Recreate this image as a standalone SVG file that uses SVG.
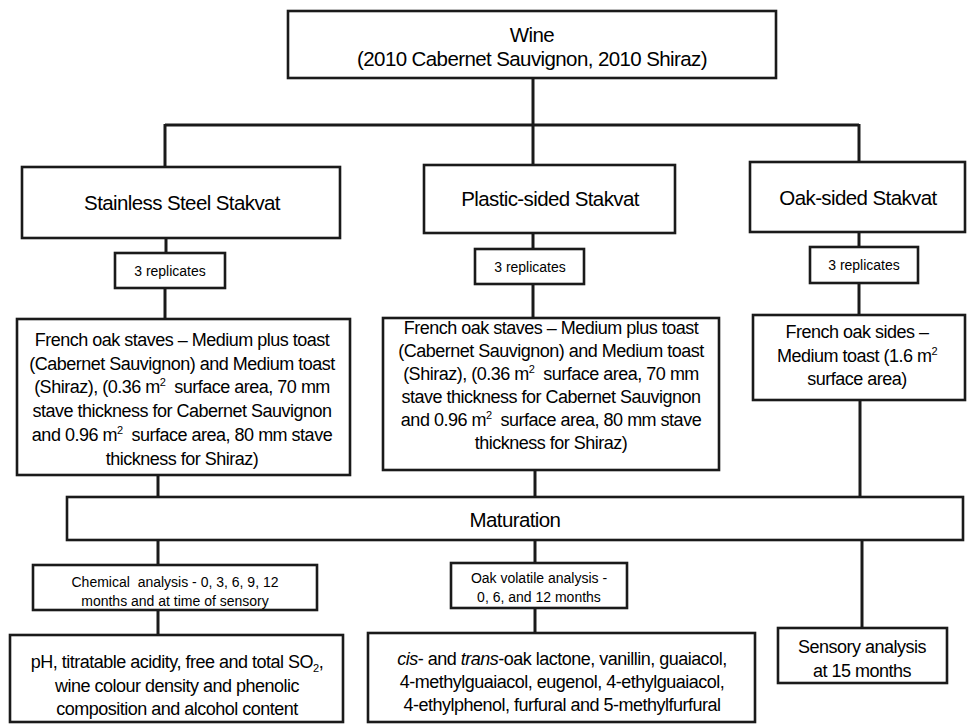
<svg xmlns="http://www.w3.org/2000/svg" width="968" height="727" viewBox="0 0 968 727">
<style>
rect.b{fill:#fff;stroke:#1a1a1a;stroke-width:2.6}
.c line{stroke:#1a1a1a;stroke-width:3}
text{font-family:"Liberation Sans",Arial,sans-serif;fill:#000;text-anchor:middle;white-space:pre}
.t1{font-size:20.5px;letter-spacing:-0.6px}
.t2{font-size:18px;letter-spacing:-0.5px}
.t3{font-size:14px}
</style>
<rect width="968" height="727" fill="#fff"/>
<g class="c" id="connectors">
<line x1="533" y1="78" x2="533" y2="165"/>
<line x1="165" y1="125" x2="859" y2="125"/>
<line x1="165" y1="124" x2="165" y2="167"/>
<line x1="859" y1="124" x2="859" y2="162"/>
<line x1="166" y1="238" x2="166" y2="253"/>
<line x1="165" y1="288" x2="165" y2="319"/>
<line x1="533" y1="233" x2="533" y2="249"/>
<line x1="533" y1="284" x2="533" y2="318"/>
<line x1="859" y1="232" x2="859" y2="247"/>
<line x1="859" y1="283" x2="859" y2="315"/>
<line x1="158" y1="475" x2="158" y2="497"/>
<line x1="535" y1="470" x2="535" y2="497"/>
<line x1="860" y1="400" x2="860" y2="497"/>
<line x1="158" y1="540" x2="158" y2="565"/>
<line x1="535" y1="540" x2="535" y2="563"/>
<line x1="862" y1="540" x2="862" y2="628"/>
<line x1="158" y1="610" x2="158" y2="635"/>
<line x1="535" y1="608" x2="535" y2="633"/>
</g>
<g id="wine">
<rect class="b" x="288" y="11" width="488" height="67"/>
<text class="t1" x="532" y="42">Wine</text>
<text class="t1" x="532" y="66">(2010 Cabernet Sauvignon, 2010 Shiraz)</text>
</g>
<g id="stainless">
<rect class="b" x="22" y="167" width="318" height="71"/>
<text class="t1" x="182" y="210">Stainless Steel Stakvat</text>
</g>
<g id="plastic">
<rect class="b" x="424" y="165" width="251" height="68"/>
<text class="t1" x="550" y="206">Plastic-sided Stakvat</text>
</g>
<g id="oak">
<rect class="b" x="750" y="162" width="215" height="70"/>
<text class="t1" x="858" y="205">Oak-sided Stakvat</text>
</g>
<g id="rep-left">
<rect class="b" x="115" y="253" width="110" height="35"/>
<text class="t3" x="170" y="276">3 replicates</text>
</g>
<g id="rep-mid">
<rect class="b" x="475" y="249" width="109" height="35"/>
<text class="t3" x="530" y="272">3 replicates</text>
</g>
<g id="rep-right">
<rect class="b" x="810" y="247" width="108" height="36"/>
<text class="t3" x="864" y="270">3 replicates</text>
</g>
<g id="staves-left">
<rect class="b" x="17" y="319" width="333" height="156"/>
<text class="t2" x="182" y="346">French oak staves – Medium plus toast</text>
<text class="t2" x="182" y="370">(Cabernet Sauvignon) and Medium toast</text>
<text class="t2" x="182" y="393">(Shiraz), (0.36 m<tspan font-size="11" dy="-7">2</tspan><tspan dy="7">  surface area, 70 mm</tspan></text>
<text class="t2" x="182" y="417">stave thickness for Cabernet Sauvignon</text>
<text class="t2" x="182" y="441">and 0.96 m<tspan font-size="11" dy="-7">2</tspan><tspan dy="7">  surface area, 80 mm stave</tspan></text>
<text class="t2" x="182" y="465">thickness for Shiraz)</text>
</g>
<g id="staves-mid">
<rect class="b" x="383" y="318" width="336" height="152"/>
<text class="t2" x="551" y="334">French oak staves – Medium plus toast</text>
<text class="t2" x="551" y="357">(Cabernet Sauvignon) and Medium toast</text>
<text class="t2" x="551" y="380">(Shiraz), (0.36 m<tspan font-size="11" dy="-7">2</tspan><tspan dy="7">  surface area, 70 mm</tspan></text>
<text class="t2" x="551" y="403">stave thickness for Cabernet Sauvignon</text>
<text class="t2" x="551" y="426">and 0.96 m<tspan font-size="11" dy="-7">2</tspan><tspan dy="7">  surface area, 80 mm stave</tspan></text>
<text class="t2" x="551" y="449">thickness for Shiraz)</text>
</g>
<g id="sides-right">
<rect class="b" x="753" y="315" width="212" height="85"/>
<text class="t2" x="857" y="338">French oak sides –</text>
<text class="t2" x="857" y="362">Medium toast (1.6 m<tspan font-size="11" dy="-7">2</tspan></text>
<text class="t2" x="857" y="385">surface area)</text>
</g>
<g id="maturation">
<rect class="b" x="67" y="497" width="896" height="43"/>
<text class="t1" x="515" y="527">Maturation</text>
</g>
<g id="chemical">
<rect class="b" x="33" y="565" width="284" height="45"/>
<text class="t3" x="175" y="587">Chemical  analysis - 0, 3, 6, 9, 12</text>
<text class="t3" x="175" y="606">months and at time of sensory</text>
</g>
<g id="volatile">
<rect class="b" x="451" y="563" width="176" height="45"/>
<text class="t3" x="539" y="583">Oak volatile analysis -</text>
<text class="t3" x="539" y="602">0, 6, and 12 months</text>
</g>
<g id="ph">
<rect class="b" x="10" y="635" width="333" height="87"/>
<text class="t2" x="177" y="668">pH, titratable acidity, free and total SO<tspan font-size="11" dy="4">2</tspan><tspan dy="-4">,</tspan></text>
<text class="t2" x="177" y="692">wine colour density and phenolic</text>
<text class="t2" x="177" y="715">composition and alcohol content</text>
</g>
<g id="volatiles-list">
<rect class="b" x="368" y="633" width="387" height="89"/>
<text class="t2" x="562" y="665"><tspan font-style="italic">cis</tspan>- and <tspan font-style="italic">trans</tspan>-oak lactone, vanillin, guaiacol,</text>
<text class="t2" x="562" y="688">4-methylguaiacol, eugenol, 4-ethylguaiacol,</text>
<text class="t2" x="562" y="711">4-ethylphenol, furfural and 5-methylfurfural</text>
</g>
<g id="sensory">
<rect class="b" x="778" y="628" width="169" height="55"/>
<text class="t2" x="862" y="653">Sensory analysis</text>
<text class="t2" x="862" y="677">at 15 months</text>
</g>
</svg>
